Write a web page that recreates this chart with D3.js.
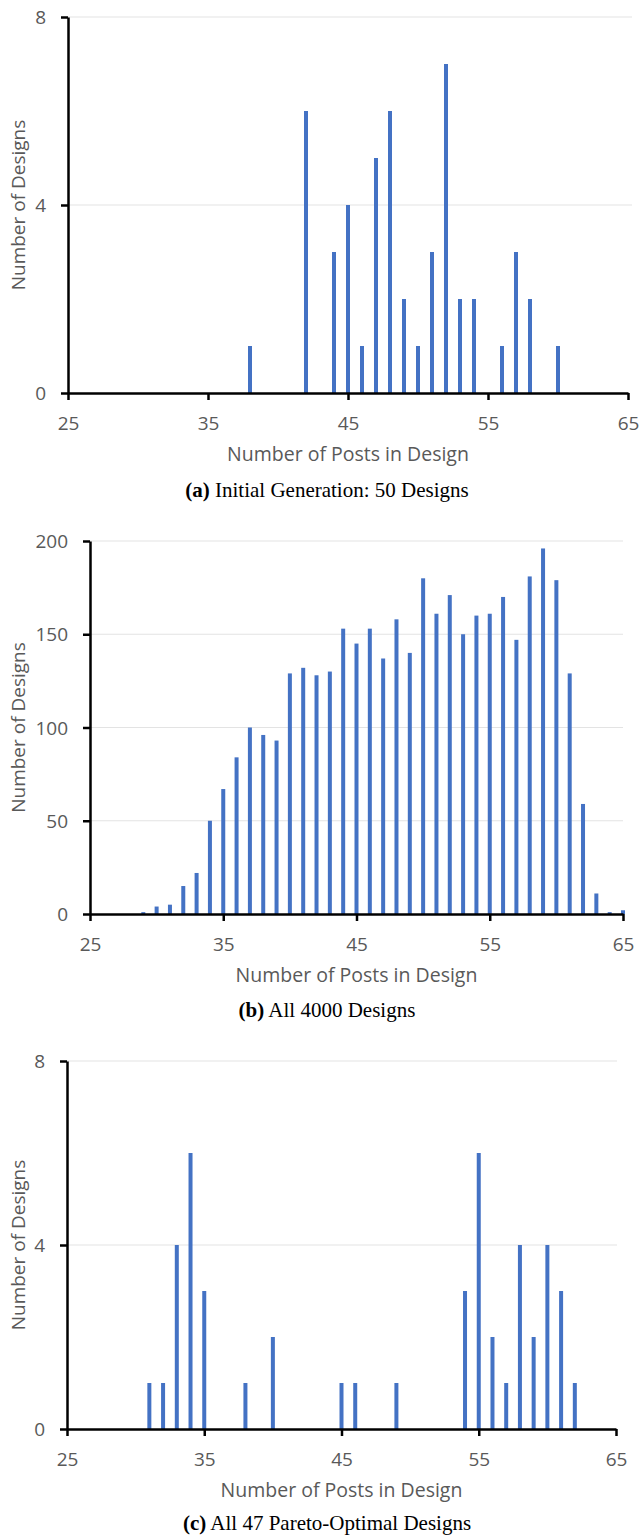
<!DOCTYPE html>
<html>
<head>
<meta charset="utf-8">
<script src="https://cdn.jsdelivr.net/npm/d3@7"></script>
<style>
  body { margin: 0; background: #fff; }
  svg text { fill: #595959; font-family: "Open Sans", sans-serif; }
  svg text.cap { fill: #000; font-family: "Liberation Serif", "Times New Roman", serif; }
</style>
</head>
<body>
<script>
// shared x ticks
var xTicks = [25, 35, 45, 55, 65];

// (a) initial generation
var postsA  = [38, 42, 44, 45, 46, 47, 48, 49, 50, 51, 52, 53, 54, 56, 57, 58, 60];
var countsA = [1, 6, 3, 4, 1, 5, 6, 2, 1, 3, 7, 2, 2, 1, 3, 2, 1];
var yTicksA = [0, 4, 8];

// (b) all 4000 designs
var postsB  = [29, 30, 31, 32, 33, 34, 35, 36, 37, 38, 39, 40, 41, 42, 43, 44, 45, 46, 47,
               48, 49, 50, 51, 52, 53, 54, 55, 56, 57, 58, 59, 60, 61, 62, 63, 64, 65];
var countsB = [1, 4, 5, 15, 22, 50, 67, 84, 100, 96, 93, 129, 132, 128, 130, 153, 145, 153, 137,
               158, 140, 180, 161, 171, 150, 160, 161, 170, 147, 181, 196, 179, 129, 59, 11, 1, 2];
var yTicksB = [0, 50, 100, 150, 200];

// (c) pareto optimal
var postsC  = [31, 32, 33, 34, 35, 38, 40, 45, 46, 49, 54, 55, 56, 57, 58, 59, 60, 61, 62];
var countsC = [1, 1, 4, 6, 3, 1, 2, 1, 1, 1, 3, 6, 2, 1, 4, 2, 4, 3, 1];
var yTicksC = [0, 4, 8];

var captions = [["(a)", " Initial Generation: 50 Designs"],
                ["(b)", " All 4000 Designs"],
                ["(c)", " All 47 Pareto-Optimal Designs"]];
var xTitle = "Number of Posts in Design";
var yTitle = "Number of Designs";

var width = 642, height = 1537;
var svg = d3.select("body").append("svg")
            .attr("width", width)
            .attr("height", height);

var panelMaker = function(posts, counts, yTicks, cap, box){
  var xScale = d3.scaleLinear().domain([25, 65]).range([box.left, box.right]);
  var yScale = d3.scaleLinear().domain([0, d3.max(yTicks)]).range([box.bottom, box.top]);
  var g = svg.append("g");

  // gridlines
  g.selectAll(".grid")
   .data(yTicks.filter(function(d){ return d > 0; }))
   .enter()
   .append("line")
   .attr("x1", box.left)
   .attr("x2", box.gridEnd)
   .attr("y1", function(d){ return yScale(d); })
   .attr("y2", function(d){ return yScale(d); })
   .attr("stroke", "#e3e3e3")
   .attr("stroke-width", 1);

  // bars
  g.selectAll("rect")
   .data(posts)
   .enter()
   .append("rect")
   .attr("x", function(d){ return xScale(d) - 2; })
   .attr("y", function(d, i){ return yScale(counts[i]); })
   .attr("width", 4)
   .attr("height", function(d, i){ return yScale(0) - yScale(counts[i]); })
   .attr("fill", "#4472c4");

  // axes
  var xAxis = g.append("g")
     .attr("transform", "translate(0," + yScale(0) + ")")
     .call(d3.axisBottom(xScale).tickValues(xTicks).tickSize(7).tickSizeOuter(0).tickFormat(d3.format("d")));
  var yAxis = g.append("g")
     .attr("transform", "translate(" + box.left + ",0)")
     .call(d3.axisLeft(yScale).tickValues(yTicks).tickSize(7).tickSizeOuter(0).tickFormat(d3.format("d")));

  [xAxis, yAxis].forEach(function(a){
    a.selectAll("path, line").attr("stroke", "#000").attr("stroke-width", 2.5);
    a.selectAll("text").attr("font-size", 19).attr("fill", "#595959")
      .style("font-family", "'Open Sans', sans-serif");
  });
  xAxis.selectAll("text").attr("y", 30).attr("dy", "0.35em");
  yAxis.selectAll("text").attr("x", -22).attr("dy", "0.35em");

  // titles
  g.append("text")
   .attr("x", (box.left + box.right) / 2)
   .attr("y", box.titleY)
   .attr("dy", "0.35em")
   .attr("text-anchor", "middle")
   .attr("font-size", 19.5)
   .text(xTitle);

  g.append("text")
   .attr("transform", "translate(18," + (box.top + box.bottom) / 2 + ") rotate(-90)")
   .attr("dy", "0.35em")
   .attr("text-anchor", "middle")
   .attr("font-size", 19)
   .text(yTitle);

  var c = g.append("text")
   .attr("class", "cap")
   .attr("x", 327)
   .attr("y", box.capY)
   .attr("dy", "0.35em")
   .attr("text-anchor", "middle")
   .attr("font-size", 21);
  c.append("tspan").attr("font-weight", "bold").text(cap[0]);
  c.append("tspan").text(cap[1]);
};

panelMaker(postsA, countsA, yTicksA, captions[0],
  {left: 68, right: 628, gridEnd: 632, top: 17, bottom: 393, titleY: 454, capY: 490});
panelMaker(postsB, countsB, yTicksB, captions[1],
  {left: 90, right: 623, gridEnd: 623, top: 541, bottom: 914, titleY: 975, capY: 1010});
panelMaker(postsC, countsC, yTicksC, captions[2],
  {left: 67, right: 616, gridEnd: 617, top: 1061, bottom: 1429, titleY: 1490, capY: 1523});
</script>
</body>
</html>
